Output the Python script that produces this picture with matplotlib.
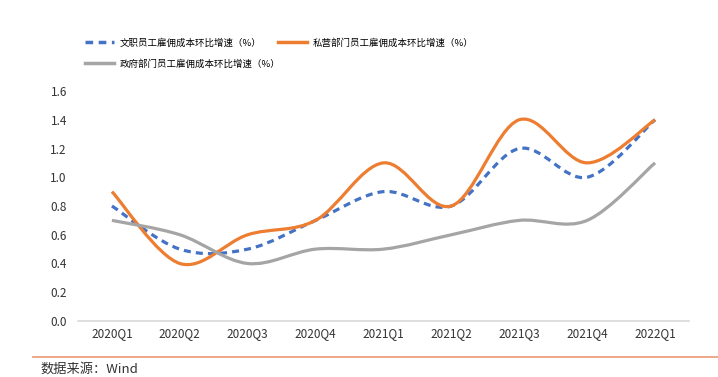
import numpy as np
import matplotlib
matplotlib.use("Agg")
import matplotlib.pyplot as plt
from matplotlib.path import Path
from matplotlib.patches import PathPatch
from matplotlib.lines import Line2D

plt.rcParams['font.family'] = ['Noto Sans CJK SC', 'DejaVu Sans']

categories = ['2020Q1', '2020Q2', '2020Q3', '2020Q4', '2021Q1', '2021Q2', '2021Q3', '2021Q4', '2022Q1']
clerical = [0.8, 0.5, 0.5, 0.7, 0.9, 0.8, 1.2, 1.0, 1.4]
private = [0.9, 0.4, 0.6, 0.7, 1.1, 0.8, 1.4, 1.1, 1.4]
government = [0.7, 0.6, 0.4, 0.5, 0.5, 0.6, 0.7, 0.7, 1.1]
names = ['文职员工雇佣成本环比增速（%）', '私营部门员工雇佣成本环比增速（%）', '政府部门员工雇佣成本环比增速（%）']
yticks = [0.0, 0.2, 0.4, 0.6, 0.8, 1.0, 1.2, 1.4, 1.6]

colors = ['#4472C4', '#ED7D31', '#A5A5A5']
styles = [(0, (2.2, 1.6)), '-', '-']


def smooth_path(x, y):
    pts = np.column_stack([x, y]).astype(float)
    n = len(pts)
    verts = [pts[0]]
    codes = [Path.MOVETO]
    for i in range(n - 1):
        p0 = pts[i - 1] if i > 0 else pts[i]
        p1 = pts[i]
        p2 = pts[i + 1]
        p3 = pts[i + 2] if i + 2 < n else pts[i + 1]
        c1 = p1 + (p2 - p0) / 6.0
        c2 = p2 - (p3 - p1) / 6.0
        verts += [c1, c2, p2]
        codes += [Path.CURVE4] * 3
    return Path(verts, codes)


fig = plt.figure(figsize=(7.18, 3.77), dpi=100)
ax = fig.add_axes([78 / 718, (377 - 321) / 377, (689 - 78) / 718, (321 - 91) / 377])

x = np.arange(len(categories))
for vals, c, ls in zip([clerical, private, government], colors, styles):
    patch = PathPatch(smooth_path(x, vals), facecolor='none', edgecolor=c,
                      linewidth=2.3, linestyle=ls, capstyle='butt', zorder=3)
    ax.add_patch(patch)

ax.set_xlim(-0.5, len(categories) - 0.5)
ax.set_ylim(0, 1.6)
ax.set_yticks(yticks)
ax.set_yticklabels([f'{v:.1f}' for v in yticks], fontsize=8.5, color='#333333')
ax.set_xticks(x)
ax.set_xticklabels(categories, fontsize=8.5, color='#333333')
for s in ['top', 'right', 'left']:
    ax.spines[s].set_visible(False)
ax.spines['bottom'].set_color('#D9D9D9')
ax.spines['bottom'].set_linewidth(1.2)
ax.tick_params(axis='x', length=0, pad=4)
ax.tick_params(axis='y', length=0, pad=8)

handles = [Line2D([], [], color=c, lw=2.5, linestyle=ls) for c, ls in zip(colors, styles)]
fig.legend(handles[:2], names[:2], loc='upper left', bbox_to_anchor=(81 / 718, 1 - 34 / 377),
           ncol=2, frameon=False, fontsize=6.8, handlelength=3.1, columnspacing=1.7,
           handletextpad=0.6, borderaxespad=0)
fig.legend(handles[2:], names[2:], loc='upper left', bbox_to_anchor=(81 / 718, 1 - 55 / 377),
           frameon=False, fontsize=6.8, handlelength=3.1, handletextpad=0.6, borderaxespad=0)

fig.add_artist(Line2D([33 / 718, 1.0], [1 - 357 / 377, 1 - 357 / 377], color='#EDA07E', lw=1.3))
fig.text(40 / 718, 1 - 376 / 377, '数据来源：Wind', fontsize=9.5, color='#333333', va='bottom')

fig.savefig('out.png', dpi=100)
